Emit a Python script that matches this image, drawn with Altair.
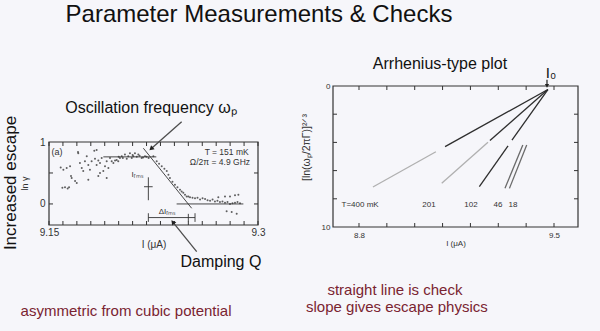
import altair as alt
import pandas as pd

F = "Liberation Sans"
INK = "#333333"
BG = "#f6f6fa"
RED = "#7a2431"

# ---------------- left panel: ln(gamma) vs I (uA) ----------------
SCAT_X = [9.1584, 9.1603, 9.1627, 9.1651, 9.1658, 9.1710, 9.1722, 9.1735, 9.1746, 9.1758,
          9.1771, 9.1782, 9.1794, 9.1806, 9.1825, 9.1830, 9.1842, 9.1854, 9.1866, 9.1878,
          9.1890, 9.1902, 9.1914, 9.1914, 9.1926, 9.1938, 9.1950, 9.1962, 9.1974, 9.1986,
          9.1997, 9.2000, 9.2009, 9.2022, 9.2030, 9.2045, 9.2058, 9.2069, 9.2081, 9.2094,
          9.2100, 9.2105, 9.2117, 9.2130, 9.2141, 9.2150, 9.2165, 9.2175, 9.2189, 9.2200,
          9.2215]
SCAT_Y = [0.59, 0.55, 0.58, 0.61, 0.45, 0.82, 0.66, 0.58, 0.53, 0.69,
          0.77, 0.63, 0.55, 0.69, 0.86, 0.73, 0.63, 0.70, 0.66, 0.74,
          0.53, 0.61, 0.69, 0.42, 0.58, 0.74, 0.69, 0.66, 0.70, 0.71,
          0.69, 0.76, 0.74, 0.77, 0.74, 0.80, 0.73, 0.77, 0.82, 0.74,
          0.79, 0.77, 0.82, 0.76, 0.80, 0.78, 0.74, 0.75, 0.77, 0.76,
          0.74]
LOW_X = [9.1596, 9.1615, 9.1634, 9.1644, 9.1663, 9.1687, 9.1699, 9.1782, 9.1854, 9.1866, 9.1708, 9.1842]
LOW_Y = [0.26, 0.27, 0.25, 0.27, 0.42, 0.37, 0.34, 0.39, 0.45, 0.50, 0.84, 0.87]
DESC_X = [9.2249, 9.2273, 9.2290, 9.2309, 9.2328, 9.2345, 9.2357, 9.2368,
          9.2386, 9.2404, 9.2422, 9.2440, 9.2452, 9.2464, 9.2476, 9.2488]
DESC_Y = [0.77, 0.69, 0.65, 0.61, 0.57, 0.53, 0.47, 0.42,
          0.36, 0.31, 0.27, 0.23, 0.20, 0.18, 0.15, 0.12]
TAIL_X = [9.2500, 9.2512, 9.2530, 9.2548, 9.2566, 9.2584, 9.2602, 9.2620, 9.2638, 9.2656,
          9.2674, 9.2691, 9.2709, 9.2727, 9.2745, 9.2763, 9.2781, 9.2799, 9.2817, 9.2835,
          9.2853, 9.2871, 9.2715, 9.2763, 9.2799, 9.2835, 9.2859, 9.2811, 9.2847, 9.2775]
TAIL_Y = [0.12, 0.11, 0.10, 0.09, 0.10, 0.07, 0.09, 0.08, 0.06, 0.05,
          0.07, 0.04, 0.05, 0.03, 0.04, 0.02, 0.03, 0.00, 0.01, 0.02,
          0.03, 0.01, 0.11, 0.12, 0.12, 0.14, 0.15, -0.13, -0.16, -0.12]

# guide lines drawn in the scanned figure (fit line, plateau, baseline, error bars)
GUIDE_X = [9.2177, 9.1890, 9.2416, 9.2213, 9.2182, 9.2213, 9.2213, 9.2548, 9.2500]
GUIDE_Y = [0.90, 0.76, 0.00, 0.43, 0.278, -0.22, -0.15, -0.15, -0.16]
GUIDE_X2 = [9.2524, 9.2270, 9.2895, 9.2213, 9.2244, 9.2548, 9.2213, 9.2548, 9.2500]
GUIDE_Y2 = [-0.07, 0.76, 0.00, 0.06, 0.278, -0.22, -0.29, -0.29, -0.28]

L_XTICKS = [9.15, 9.16, 9.17, 9.18, 9.19, 9.20, 9.21, 9.22, 9.23, 9.24, 9.25, 9.26, 9.27, 9.28, 9.29, 9.30]
L_YTICKS = [0.0, 0.5]
L_XLABELS = [9.15, 9.3]
L_YLABELS = [0, 1]

# ---------------- right panel: Arrhenius-type plot ----------------
R_X = [9.478, 9.076, 9.478, 9.263, 9.478, 9.335, 9.388, 9.402]
R_Y = [0.25, 4.66, 0.25, 3.99, 0.25, 4.25, 4.18, 4.18]
R_X2 = [9.109, 8.850, 9.270, 9.097, 9.349, 9.232, 9.324, 9.340]
R_Y2 = [4.30, 7.16, 3.86, 6.90, 3.84, 7.14, 7.26, 7.26]
R_SHADE = ["dark", "light", "dark", "light", "dark", "dark", "mid", "mid"]
R_LAB = ["T=400 mK", "201", "102", "46", "18"]
R_LAB_X = [8.804, 9.051, 9.202, 9.299, 9.353]
R_LAB_Y = [8.44, 8.44, 8.44, 8.44, 8.44]
R_XTICKS = [8.8, 8.9, 9.0, 9.1, 9.2, 9.3, 9.4, 9.5]
R_YTICKS = [2, 4, 6, 8]
R_XLABELS = [8.8, 9.5]
R_YLABELS = [0, 10]

# ---------------- scales & axes ----------------
LXD, LYD = [9.15, 9.30], [-0.34, 1.0]
RXD, RYD = [8.7067, 9.5861], [0, 10]
SXL = alt.Scale(domain=LXD, range=[49, 258], nice=False, zero=False)
SYL = alt.Scale(domain=LYD, range=[225, 142], nice=False, zero=False)
SXR = alt.Scale(domain=RXD, range=[333, 578], nice=False, zero=False)
SYR = alt.Scale(domain=RYD, range=[86, 227], nice=False, zero=False)

common = dict(tickSize=0, domain=False, grid=False, labelFont=F, titleFont=F,
              labelColor=INK, titleColor=INK, titleFontWeight="normal", labelFlush=False)
AXL = alt.Axis(orient="bottom", offset=-106, values=L_XLABELS, format=".2~f", labelFontSize=10,
               labelPadding=2, title="I (μA)", titleFontSize=10, titlePadding=2, **common)
AYL = alt.Axis(orient="left", offset=-49, values=L_YLABELS, format="d", labelFontSize=10,
               labelPadding=4, title="ln γ", titleFontSize=9, titleX=-20, titleY=183,
               titleAngle=270, **common)
AXR = alt.Axis(orient="bottom", offset=-104, values=R_XLABELS, format=".1f", labelFontSize=8,
               labelPadding=4, title="I (μA)", titleFontSize=8, titlePadding=0, **common)
AYR = alt.Axis(orient="left", offset=-333, values=R_YLABELS, format="d", labelFontSize=8,
               labelPadding=3, title="[ln(ωₚ/2πΓ)]²ᐟ³", titleFontSize=10.5, titleX=-22,
               titleY=147, titleAngle=270, **common)


def enc_l(ch, two=False):
    e = dict(x=alt.X("x:Q", scale=SXL, axis=AXL), y=alt.Y("y:Q", scale=SYL, axis=AYL))
    if two:
        e.update(x2="x2:Q", y2="y2:Q")
    return ch.encode(**e)


def enc_r(ch, two=False):
    e = dict(x=alt.X("x:Q", scale=SXR, axis=AXR), y=alt.Y("y:Q", scale=SYR, axis=AYR))
    if two:
        e.update(x2="x2:Q", y2="y2:Q")
    return ch.encode(**e)


def seg_df(x, y, x2, y2):
    return pd.DataFrame({"x": x, "y": y, "x2": x2, "y2": y2})


def tick_df(xd, yd, xt, yt, dx, dy):
    rows = []
    for t in xt:
        rows.append((t, yd[0], t, yd[0] + dy))
        rows.append((t, yd[1], t, yd[1] - dy))
    for t in yt:
        rows.append((xd[0], t, xd[0] + dx, t))
        rows.append((xd[1], t, xd[1] - dx, t))
    return pd.DataFrame(rows, columns=["x", "y", "x2", "y2"])


def text_l(x, y, s, **kw):
    base = dict(font=F, color=INK)
    base.update(kw)
    return enc_l(alt.Chart(pd.DataFrame({"x": [x], "y": [y], "t": [s]})).mark_text(**base)).encode(text="t:N")


def text_r(x, y, s, **kw):
    base = dict(font=F, color=INK)
    base.update(kw)
    return enc_r(alt.Chart(pd.DataFrame({"x": [x], "y": [y], "t": [s]})).mark_text(**base)).encode(text="t:N")


# ---------------- left layers ----------------
TICK_PX = 4
l_frame = enc_l(alt.Chart(seg_df([LXD[0]], [LYD[0]], [LXD[1]], [LYD[1]])).mark_rect(
    fillOpacity=0, stroke=INK, strokeWidth=1.2), two=True)
l_ticks = enc_l(alt.Chart(tick_df(LXD, LYD, L_XTICKS, L_YTICKS,
                                  TICK_PX * 0.15 / 209, TICK_PX * 1.34 / 83)).mark_rule(
    color=INK, strokeWidth=1), two=True)
pts = pd.DataFrame({"x": SCAT_X + LOW_X + DESC_X + TAIL_X, "y": SCAT_Y + LOW_Y + DESC_Y + TAIL_Y})
l_pts = enc_l(alt.Chart(pts).mark_circle(size=4, color="#444", opacity=0.85))
l_guides = enc_l(alt.Chart(seg_df(GUIDE_X, GUIDE_Y, GUIDE_X2, GUIDE_Y2)).mark_rule(
    color=INK, strokeWidth=0.9), two=True)

# slide arrows
l_arrows = enc_l(alt.Chart(seg_df([9.2452, 9.2560], [1.328, -0.771], [9.2237, 9.2392], [0.898, -0.303])).mark_rule(
    color="#4d4d4d", strokeWidth=1.3), two=True)
l_head1 = enc_l(alt.Chart(pd.DataFrame({"x": [9.2237], "y": [0.898]})).mark_point(
    shape="triangle", filled=True, size=28, color="#222", opacity=1, angle=228))
l_head2 = enc_l(alt.Chart(pd.DataFrame({"x": [9.2392], "y": [-0.303]})).mark_point(
    shape="triangle", filled=True, size=28, color="#222", opacity=1, angle=321))

left = alt.layer(
    l_frame, l_ticks, l_pts, l_guides, l_arrows, l_head1, l_head2,
    text_l(9.1557, 0.843, "(a)", fontSize=9),
    text_l(9.2775, 0.843, "T = 151 mK", fontSize=8.5),
    text_l(9.2727, 0.682, "Ω/2π = 4.9 GHz", fontSize=8.5),
    text_l(9.2132, 0.467, "Iᵣₘₛ", fontSize=8),
    text_l(9.2347, -0.125, "ΔIᵣₘₛ", fontSize=8),
    text_l(9.3007, 3.05, "Parameter Measurements & Checks", fontSize=24, color="#111"),
    text_l(9.1227, 0.338, "Increased escape", fontSize=17, angle=270, color="#111"),
    text_l(9.2232, 1.549, "Oscillation frequency ωₚ", fontSize=16, color="#111"),
    text_l(9.2734, -0.937, "Damping Q", fontSize=16, color="#111"),
    text_l(9.2053, -1.728, "asymmetric from cubic potential", fontSize=15, color=RED),
)

# ---------------- right layers ----------------
r_frame = enc_r(alt.Chart(seg_df([RXD[0]], [RYD[0]], [RXD[1]], [RYD[1]])).mark_rect(
    fillOpacity=0, stroke=INK, strokeWidth=1.2), two=True)
r_ticks = enc_r(alt.Chart(tick_df(RXD, RYD, R_XTICKS, R_YTICKS,
                                  TICK_PX * 0.8794 / 245, TICK_PX * 10 / 141)).mark_rule(
    color=INK, strokeWidth=1), two=True)
rl = seg_df(R_X, R_Y, R_X2, R_Y2)
rl["shade"] = R_SHADE
r_lines = enc_r(alt.Chart(rl).mark_rule(strokeWidth=1.3), two=True).encode(
    color=alt.Color("shade:N", scale=alt.Scale(domain=["dark", "mid", "light"],
                                               range=["#2e2e2e", "#6a6a6a", "#b0b0b0"]), legend=None))
r_labels = enc_r(alt.Chart(pd.DataFrame({"x": R_LAB_X, "y": R_LAB_Y, "t": R_LAB})).mark_text(
    font=F, fontSize=8, color=INK)).encode(text="t:N")
r_arrow = enc_r(alt.Chart(seg_df([9.4748], [-0.45], [9.4748], [-0.1])).mark_rule(
    color="#222", strokeWidth=1.2), two=True)
r_head = enc_r(alt.Chart(pd.DataFrame({"x": [9.4748], "y": [-0.05]})).mark_point(
    shape="triangle", filled=True, size=18, color="#222", opacity=1, angle=180))

right = alt.layer(
    r_frame, r_ticks, r_lines, r_labels, r_arrow, r_head,
    text_r(9.0907, -1.56, "Arrhenius-type plot", fontSize=16, color="#111"),
    text_r(9.489, -0.92, "I₀", fontSize=15, color="#111"),
    text_r(8.929, 14.47, "straight line is check", fontSize=15, color=RED),
    text_r(8.936, 15.67, "slope gives escape physics", fontSize=15, color=RED),
)

chart = alt.layer(left, right).resolve_scale(x="independent", y="independent").properties(
    width=600, height=331, padding=0, background=BG,
    autosize=alt.AutoSizeParams(type="none"),
).configure_view(stroke="transparent")

chart.save("out.html", embed_options={"renderer": "svg", "actions": False})
